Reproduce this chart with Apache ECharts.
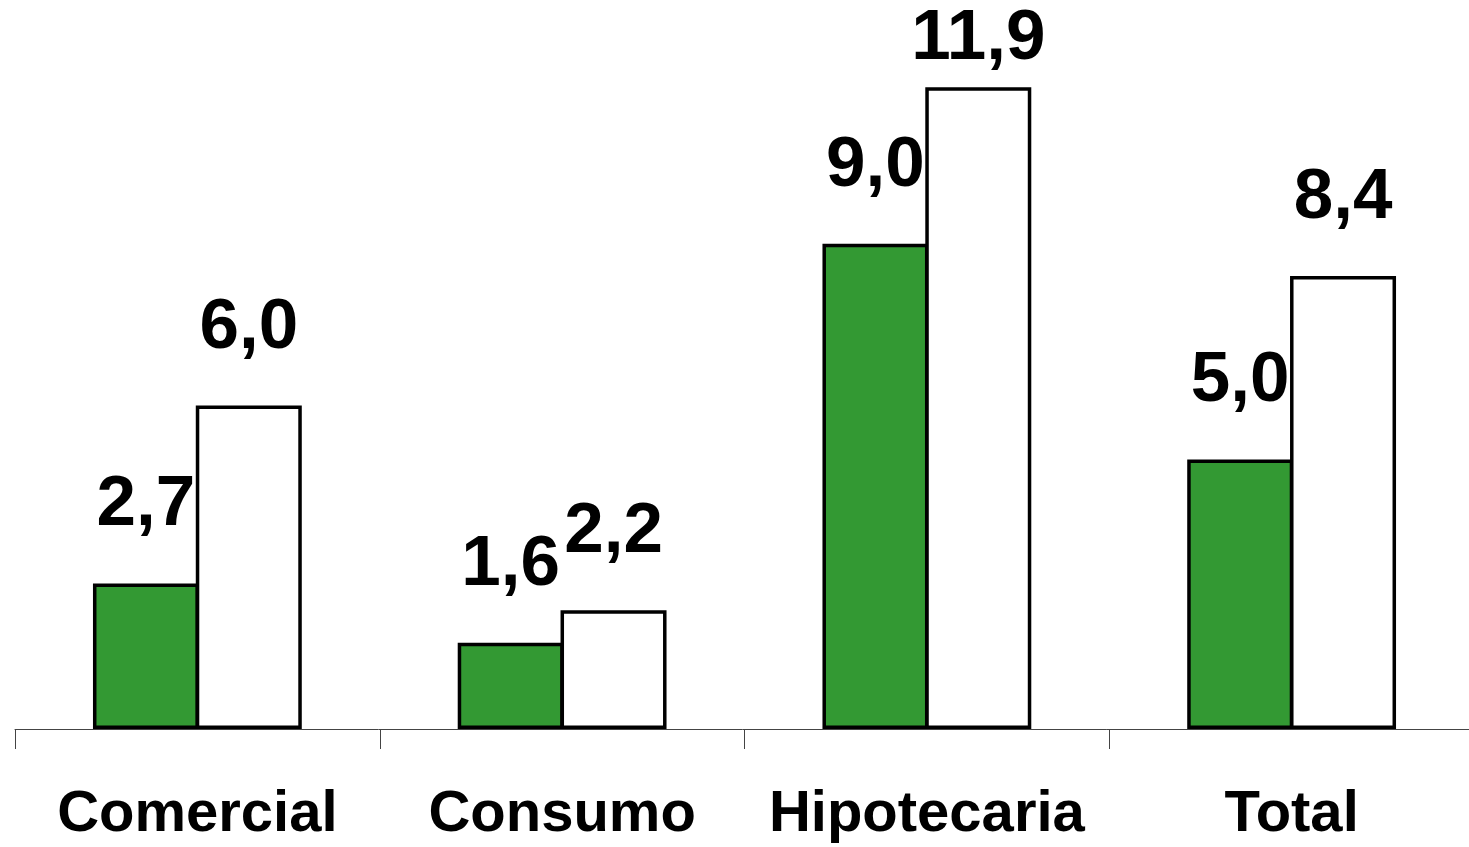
<!DOCTYPE html>
<html>
<head>
<meta charset="utf-8">
<script src="https://cdn.jsdelivr.net/npm/echarts@6/dist/echarts.min.js"></script>
<style>
html,body{margin:0;padding:0;background:#fff;}
#chart{width:1469px;height:847px;}
</style>
</head>
<body>
<div id="chart"></div>
<script>
const categories = ['Comercial', 'Consumo', 'Hipotecaria', 'Total'];
const seriesGreen = [2.7, 1.6, 9.0, 5.0];
const seriesWhite = [6.0, 2.2, 11.9, 8.4];

const fmt = p => p.value.toFixed(1).replace('.', ',');
const labelBase = {
  show: true, position: 'top', distance: 42,
  fontFamily: 'Liberation Sans', fontWeight: 'bold', fontSize: 71, color: '#000',
  formatter: fmt
};

const chart = echarts.init(document.getElementById('chart'));
chart.setOption({
  animation: false,
  backgroundColor: '#fff',
  grid: { left: 15, width: 1459, top: 28, bottom: 118, outerBoundsMode: 'none', containLabel: false },
  xAxis: {
    type: 'category',
    data: categories,
    axisLine: { lineStyle: { color: '#444', width: 1 } },
    axisTick: { show: true, interval: 0, length: 20, lineStyle: { color: '#444', width: 1 } },
    axisLabel: {
      interval: 0, hideOverlap: false,
      margin: 57, fontFamily: 'Liberation Sans', fontWeight: 'bold',
      fontSize: 58, color: '#000'
    }
  },
  yAxis: {
    type: 'value', min: 0, max: 13,
    show: false, splitLine: { show: false }
  },
  series: [
    {
      type: 'bar', barWidth: 106, barGap: '-3%',
      data: seriesGreen,
      itemStyle: { color: '#339933', borderColor: '#000', borderWidth: 3.5 },
      label: labelBase
    },
    {
      type: 'bar', barWidth: 106, barGap: '-3%',
      data: seriesWhite.map((v, i) => i === 2 ? { value: v, label: { distance: 12 } } : v),
      itemStyle: { color: '#fff', borderColor: '#000', borderWidth: 3.5 },
      label: labelBase
    }
  ]
});
</script>
</body>
</html>
